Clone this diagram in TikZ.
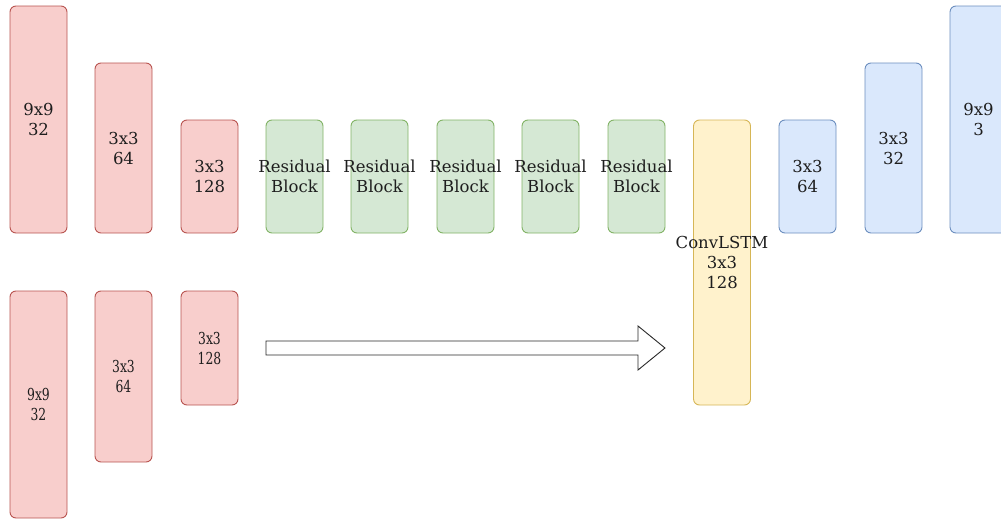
\documentclass[tikz,border=0pt]{standalone}
\usepackage{fontspec}
\setmainfont{DejaVu Serif}
\begin{document}
\begin{tikzpicture}[x=1pt,y=-1pt,
  layer/.style={rectangle,rounded corners=6pt,line width=0.9pt,inner sep=0pt,
    minimum width=57pt},
  enc/.style={layer,draw={rgb,255:red,184;green,84;blue,80},fill={rgb,255:red,248;green,206;blue,204}},
  res/.style={layer,draw={rgb,255:red,130;green,179;blue,102},fill={rgb,255:red,213;green,232;blue,212}},
  lstm/.style={layer,draw={rgb,255:red,214;green,182;blue,86},fill={rgb,255:red,255;green,242;blue,204}},
  dec/.style={layer,draw={rgb,255:red,108;green,142;blue,191},fill={rgb,255:red,218;green,232;blue,252}},
  txt/.style={align=center,inner sep=0pt,font=\fontsize{16.5}{20}\selectfont,text={rgb,255:red,30;green,30;blue,30}},
  ntxt/.style={txt,xscale=0.75,transform shape}]
\useasboundingbox (0,0) rectangle (1001,522);
\clip (0,0) rectangle (1001,522);

% encoder, upper branch
\node[enc,minimum height=227pt,label={[txt]center:9x9\\32}]  (e1) at (38.5,119.5) {};
\node[enc,minimum height=170pt,label={[txt]center:3x3\\64}]  (e2) at (123.5,148) {};
\node[enc,minimum height=113pt,label={[txt]center:3x3\\128}] (e3) at (209.5,176.5) {};

% residual blocks
\foreach \i/\x in {1/294.5,2/379.5,3/465.5,4/550.5,5/636.5}
  \node[res,minimum height=113pt,label={[txt]center:Residual\\Block}] (r\i) at (\x,176.5) {};

% recurrent cell
\node[lstm,minimum height=285pt,label={[txt]center:ConvLSTM\\3x3\\128}] (c) at (722,262.5) {};

% decoder
\node[dec,minimum height=113pt,label={[txt]center:3x3\\64}] (d1) at (807.5,176.5) {};
\node[dec,minimum height=170pt,label={[txt]center:3x3\\32}] (d2) at (893.5,148) {};
\node[dec,minimum height=227pt,label={[txt]center:9x9\\3}]  (d3) at (978.5,119.5) {};

% encoder, lower branch (narrower lettering)
\node[enc,minimum height=227pt,label={[ntxt]center:9x9\\32}]  (f1) at (38.5,404.5) {};
\node[enc,minimum height=171pt,label={[ntxt]center:3x3\\64}]  (f2) at (123.5,376.5) {};
\node[enc,minimum height=114pt,label={[ntxt]center:3x3\\128}] (f3) at (209.5,348) {};

% hollow arrow from the lower branch into the recurrent cell
\coordinate (as) at (266,348);
\coordinate (at) at (665,348);
\draw[line width=0.9pt,draw={rgb,255:red,40;green,40;blue,40},fill=white,line join=miter]
  ([yshift=-7pt]as) -- ([xshift=-27pt,yshift=-7pt]at) -- ([xshift=-27pt,yshift=-22pt]at)
  -- (at) -- ([xshift=-27pt,yshift=22pt]at) -- ([xshift=-27pt,yshift=7pt]at)
  -- ([yshift=7pt]as) -- cycle;
\end{tikzpicture}
\end{document}
